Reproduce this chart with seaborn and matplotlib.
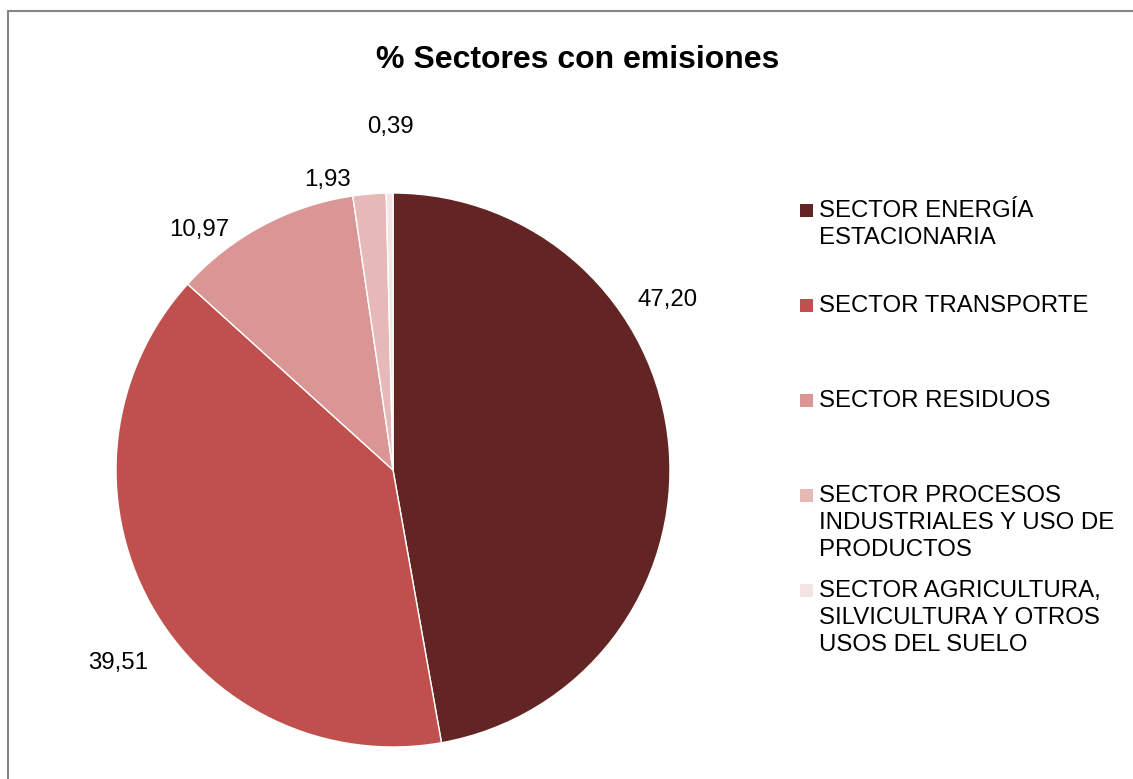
import matplotlib
matplotlib.use("Agg")
import matplotlib.pyplot as plt
from matplotlib.patches import Rectangle
import seaborn as sns

sectores = ["SECTOR ENERGÍA\nESTACIONARIA",
            "SECTOR TRANSPORTE",
            "SECTOR RESIDUOS",
            "SECTOR PROCESOS\nINDUSTRIALES Y USO DE\nPRODUCTOS",
            "SECTOR AGRICULTURA,\nSILVICULTURA Y OTROS\nUSOS DEL SUELO"]
valores = [47.20, 39.51, 10.97, 1.93, 0.39]
etiquetas = ["47,20", "39,51", "10,97", "1,93", "0,39"]
colores = ["#632523", "#C0504D", "#D99694", "#E6B9B8", "#F5E4E4"]

sns.set_style("white")
plt.rcParams['font.family'] = ['Liberation Sans', 'DejaVu Sans']
plt.rcParams['text.color'] = 'black'

fig = plt.figure(figsize=(11.33, 7.79), dpi=100)
W, H = 1133, 779

# marco gris del grafico
fig.patches.append(Rectangle((8 / W, -0.05), 1.2, (779 - 11) / H + 0.05,
                             transform=fig.transFigure, fill=False,
                             edgecolor="#868686", linewidth=1.5))

ax = fig.add_axes([116 / W, (779 - 747) / H, 554 / W, 554 / H])
ax.pie(valores, colors=colores, startangle=90, counterclock=False, radius=1,
       wedgeprops=dict(edgecolor="white", linewidth=1))
ax.set_xlim(-1, 1)
ax.set_ylim(-1, 1)
ax.axis("off")

# posiciones de etiquetas (estilo Excel "mejor ajuste")
pos_etq = [(0.99, 0.614), (-0.993, -0.697), (-0.70, 0.866), (-0.235, 1.047), (-0.011, 1.238)]
for txt, (x, y) in zip(etiquetas, pos_etq):
    ax.text(x, y, txt, ha="center", va="center", fontsize=17.3, clip_on=False)

fig.text(578 / W, 1 - 60 / H, "% Sectores con emisiones", ha="center", va="center",
         fontsize=23, fontweight="bold")

# leyenda
for i, (lab, c) in enumerate(zip(sectores, colores)):
    yc = 210 + 95 * i
    fig.patches.append(Rectangle((800 / W, 1 - (yc + 6.5) / H), 13 / W, 13 / H,
                                 transform=fig.transFigure, facecolor=c, edgecolor="none"))
    fig.text(819 / W, 1 - (yc - 10) / H, lab, ha="left", va="top", fontsize=17.3,
             linespacing=1.29)

fig.savefig("out.png", dpi=100)
